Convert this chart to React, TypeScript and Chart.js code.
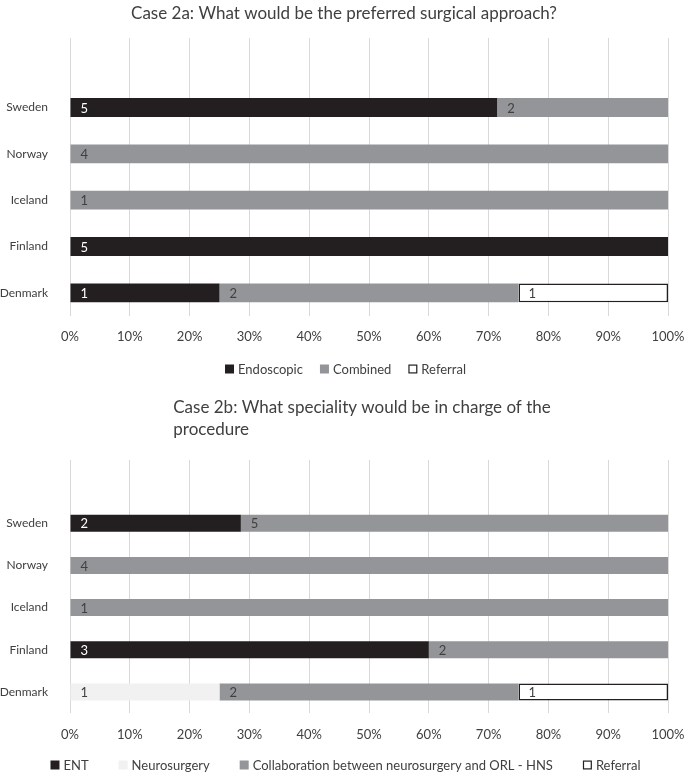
import React, { useEffect, useRef } from "react";
import { Chart, registerables } from "chart.js";
Chart.register(...registerables);

const FONT = "Lato";

const countries = ["", "Sweden", "Norway", "Iceland", "Finland", "Denmark"];

// Case 2a counts
const seriesA = ["Endoscopic", "Combined", "Referral"];
const endoscopic = [0, 5, 0, 0, 5, 1];
const combined = [0, 2, 4, 1, 0, 2];
const referralA = [0, 0, 0, 0, 0, 1];

// Case 2b counts
const seriesB = ["ENT", "Neurosurgery", "Collaboration between neurosurgery and ORL - HNS", "Referral"];
const ent = [0, 2, 0, 0, 3, 0];
const neurosurgery = [0, 0, 0, 0, 0, 1];
const collaboration = [0, 5, 4, 1, 2, 2];
const referralB = [0, 0, 0, 0, 0, 1];

const titleA = ["Case 2a: What would be the preferred surgical approach?"];
const titleB = ["Case 2b: What speciality would be in charge of the", "procedure"];

const BLACK = "#231f20";
const GRAY = "#939598";
const LIGHT = "#f1f1f2";
const WHITE = "#ffffff";

type Style = { fill: string; stroke?: string; text: string };
const stylesA: Style[] = [
  { fill: BLACK, text: "#ffffff" },
  { fill: GRAY, text: "#404040" },
  { fill: WHITE, stroke: BLACK, text: "#404040" },
];
const stylesB: Style[] = [
  { fill: BLACK, text: "#ffffff" },
  { fill: LIGHT, text: "#404040" },
  { fill: GRAY, text: "#404040" },
  { fill: WHITE, stroke: BLACK, text: "#404040" },
];

interface Cfg {
  width: number;
  height: number;
  names: string[];
  counts: number[][];
  styles: Style[];
  title: string[];
  titleY: number[];
  titleCenter: number;
  titleAlignBlock: boolean;
  top: number;
  plotBottom: number;
  tickCenter: number;
  legendY: number;
  legendGap: number;
}

function BarChart({ cfg }: { cfg: Cfg }) {
  const ref = useRef<HTMLCanvasElement>(null);
  useEffect(() => {
    document.body.style.margin = "0";
    const canvas = ref.current!;
    const totals = countries.map((_, i) => cfg.counts.reduce((s, arr) => s + arr[i], 0));
    const datasets = cfg.counts.map((arr, k) => ({
      label: cfg.names[k],
      data: arr.map((v, i) => (v > 0 && totals[i] > 0 ? (v / totals[i]) * 100 : null)),
      backgroundColor: cfg.styles[k].fill,
      borderColor: cfg.styles[k].stroke || cfg.styles[k].fill,
      borderWidth: cfg.styles[k].stroke ? 1.5 : 0,
      borderSkipped: false as any,
      barPercentage: 0.45,
      categoryPercentage: 0.9,
    }));
    const axisH = cfg.tickCenter - cfg.plotBottom + 12;
    const bottomPad = cfg.height - cfg.plotBottom - axisH;

    const textPlugin = {
      id: "texts",
      afterDatasetsDraw(chart: any) {
        const ctx = chart.ctx;
        ctx.save();
        ctx.font = `13px ${FONT}`;
        ctx.textBaseline = "middle";
        ctx.textAlign = "left";
        chart.data.datasets.forEach((ds: any, k: number) => {
          const meta = chart.getDatasetMeta(k);
          meta.data.forEach((el: any, i: number) => {
            const c = cfg.counts[k][i];
            if (!c) return;
            ctx.fillStyle = cfg.styles[k].text;
            ctx.fillText(String(c), el.base + 10, el.y + 1);
          });
        });
        ctx.restore();
      },
      afterDraw(chart: any) {
        const ctx = chart.ctx;
        ctx.save();
        // title
        ctx.font = `17px ${FONT}`;
        ctx.fillStyle = "#404040";
        ctx.textBaseline = "middle";
        const widths = cfg.title.map((t) => ctx.measureText(t).width);
        const maxW = Math.max(...widths);
        cfg.title.forEach((t, i) => {
          if (cfg.titleAlignBlock) {
            ctx.textAlign = "left";
            ctx.fillText(t, cfg.titleCenter - maxW / 2, cfg.titleY[i]);
          } else {
            ctx.textAlign = "center";
            ctx.fillText(t, cfg.titleCenter, cfg.titleY[i]);
          }
        });
        // legend
        ctx.font = `13px ${FONT}`;
        ctx.textAlign = "left";
        const box = 9;
        const gapBT = 4;
        const items = cfg.names.map((nm) => box + gapBT + ctx.measureText(nm).width);
        const total = items.reduce((a, b) => a + b, 0) + cfg.legendGap * (items.length - 1);
        let x = cfg.width / 2 - total / 2 + 3;
        cfg.names.forEach((nm, k) => {
          const st = cfg.styles[k];
          ctx.fillStyle = st.fill;
          ctx.fillRect(x, cfg.legendY - box / 2, box, box);
          if (st.stroke) {
            ctx.strokeStyle = st.stroke;
            ctx.lineWidth = 1.2;
            ctx.strokeRect(x + 0.6, cfg.legendY - box / 2 + 0.6, box - 1.2, box - 1.2);
          }
          ctx.fillStyle = "#404040";
          ctx.fillText(nm, x + box + gapBT, cfg.legendY + 1);
          x += items[k] + cfg.legendGap;
        });
        ctx.restore();
      },
    };

    const chart = new Chart(canvas, {
      type: "bar",
      data: { labels: countries, datasets },
      options: {
        indexAxis: "y",
        animation: false,
        responsive: false,
        maintainAspectRatio: false,
        layout: { padding: { top: cfg.top, bottom: bottomPad, left: 0, right: 17 } },
        plugins: { legend: { display: false }, title: { display: false }, tooltip: { enabled: false } },
        scales: {
          x: {
            stacked: true,
            min: 0,
            max: 100,
            ticks: {
              stepSize: 10,
              callback: (v: any) => v + "%",
              color: "#404040",
              font: { family: FONT, size: 13 },
              padding: cfg.tickCenter - cfg.plotBottom - 8,
            },
            grid: { color: "#d9d9d9", drawTicks: false, lineWidth: 1 },
            border: { display: false },
            afterFit: (s: any) => {
              s.height = axisH;
              s.paddingLeft = 0;
              s.paddingRight = 0;
            },
          },
          y: {
            stacked: true,
            grid: { display: false },
            border: { display: false },
            ticks: { color: "#404040", font: { family: FONT, size: 12 }, padding: 14, autoSkip: false },
            afterFit: (s: any) => {
              s.width = 70;
              s.paddingTop = 0;
              s.paddingBottom = 0;
            },
          },
        },
      } as any,
      plugins: [textPlugin],
    });
    return () => chart.destroy();
  }, [cfg]);
  return <canvas ref={ref} width={cfg.width} height={cfg.height} style={{ display: "block" }} />;
}

const cfgA: Cfg = {
  width: 685,
  height: 385,
  names: seriesA,
  counts: [endoscopic, combined, referralA],
  styles: stylesA,
  title: titleA,
  titleY: [14],
  titleCenter: 344,
  titleAlignBlock: false,
  top: 38,
  plotBottom: 316,
  tickCenter: 337,
  legendY: 369,
  legendGap: 17,
};

const cfgB: Cfg = {
  width: 685,
  height: 388,
  names: seriesB,
  counts: [ent, neurosurgery, collaboration, referralB],
  styles: stylesB,
  title: titleB,
  titleY: [23, 45],
  titleCenter: 362,
  titleAlignBlock: true,
  top: 75,
  plotBottom: 328,
  tickCenter: 350,
  legendY: 380,
  legendGap: 30,
};

export default function App() {
  return (
    <div>
      <BarChart cfg={cfgA} />
      <BarChart cfg={cfgB} />
    </div>
  );
}
